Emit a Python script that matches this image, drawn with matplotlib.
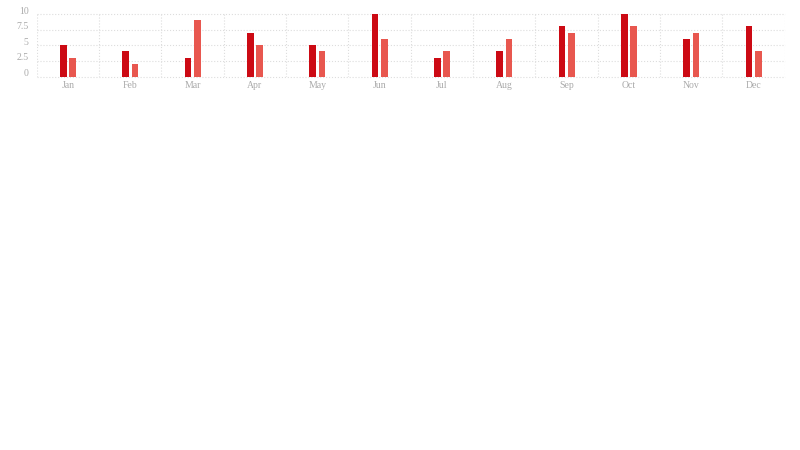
import numpy as np
import matplotlib
matplotlib.use('Agg')
import matplotlib.pyplot as plt
import matplotlib.transforms as mtransforms

months = ['Jan', 'Feb', 'Mar', 'Apr', 'May', 'Jun', 'Jul', 'Aug', 'Sep', 'Oct', 'Nov', 'Dec']
series_a = [5, 4, 3, 7, 5, 10, 3, 4, 8, 10, 6, 8]
series_b = [3, 2, 9, 5, 4, 6, 4, 6, 7, 8, 7, 4]
y_ticks = [0, 2.5, 5, 7.5, 10]
y_labels = ['0', '2.5', '5', '7.5', '10']

plt.rcParams['font.family'] = ['Liberation Serif', 'DejaVu Serif']

fig = plt.figure(figsize=(8, 4.5), dpi=100)
ax = fig.add_axes([0.046, 0.83, 0.935, 0.139])

x = np.arange(len(months))
w = 0.11
ax.bar(x - 0.075, series_a, width=w, color='#cc0a14', zorder=3)
ax.bar(x + 0.075, series_b, width=w, color='#e8574f', zorder=3)

ax.set_xlim(-0.5, len(months) - 0.5)
ax.set_ylim(0, 10)
ax.set_xticks(x)
ax.set_xticklabels(months)
ax.set_yticks(y_ticks)
ax.set_yticklabels(y_labels)

# grid: horizontal at ticks, vertical at category boundaries
for yv in y_ticks:
    ax.axhline(yv, color='#dddddd', lw=0.8, ls=':', zorder=1, clip_on=False)
for b in np.arange(-0.5, len(months), 1):
    ax.axvline(b, color='#dddddd', lw=0.8, ls=':', zorder=1)

for s in ax.spines.values():
    s.set_visible(False)
ax.tick_params(axis='both', length=0, labelsize=7, colors='#aaaaaa')
ax.tick_params(axis='x', pad=3)
ax.tick_params(axis='y', pad=6)

# y labels sit a little above their grid lines
shift = mtransforms.ScaledTranslation(0, 2.8 / 72, fig.dpi_scale_trans)
for lab in ax.get_yticklabels():
    lab.set_transform(lab.get_transform() + shift)

fig.savefig('out.png', dpi=100)
